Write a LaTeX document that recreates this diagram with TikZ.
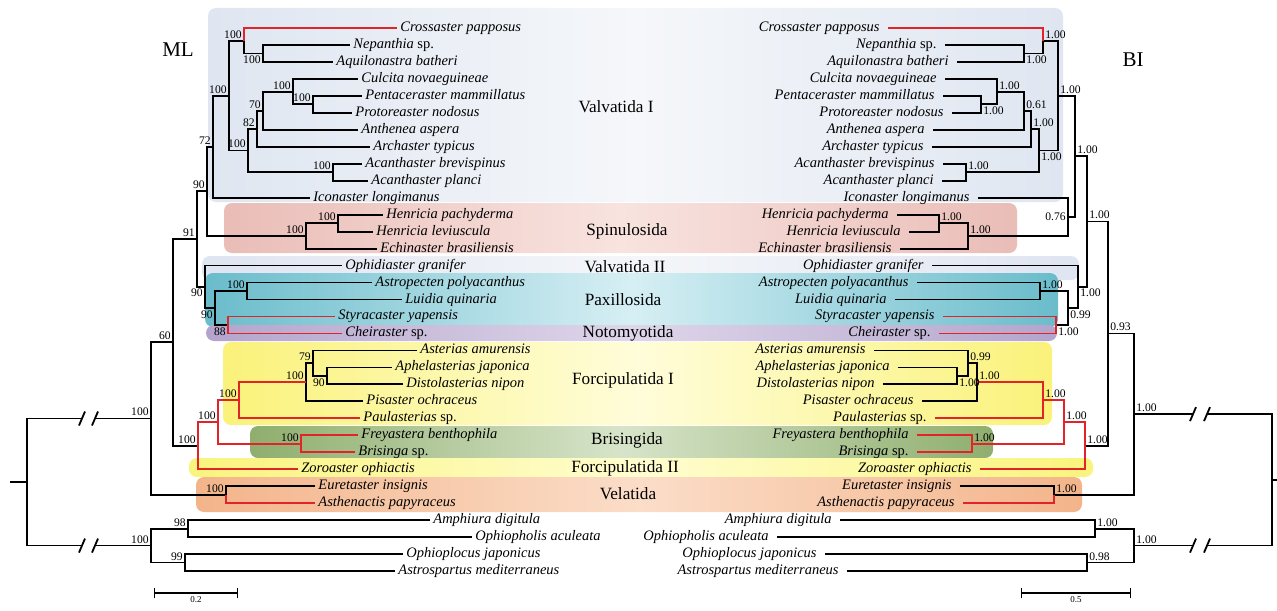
\documentclass[tikz,border=0pt]{standalone}
\usepackage{fontspec}
\setmainfont{Liberation Serif}
\usetikzlibrary{calc,arrows.meta}
\definecolor{BrRed}{HTML}{E2232A}
\definecolor{ValvIEdge}{HTML}{DFE6F1}
\definecolor{ValvIMid}{HTML}{F5F7FA}
\definecolor{SpinEdge}{HTML}{EABDB7}
\definecolor{SpinMid}{HTML}{F8E3DF}
\definecolor{ValvIIEdge}{HTML}{DFE5F1}
\definecolor{ValvIIMid}{HTML}{F4F6F9}
\definecolor{PaxEdge}{HTML}{6ABCCB}
\definecolor{PaxMid}{HTML}{D6EFF4}
\definecolor{NotoEdge}{HTML}{B4A4CC}
\definecolor{NotoMid}{HTML}{DED6EA}
\definecolor{ForcIEdge}{HTML}{FAF27A}
\definecolor{ForcIMid}{HTML}{FFFDDA}
\definecolor{BrisEdge}{HTML}{8FAE6E}
\definecolor{BrisMid}{HTML}{D7E4C9}
\definecolor{ForcIIEdge}{HTML}{F9F47C}
\definecolor{ForcIIMid}{HTML}{FFFDCF}
\definecolor{VelEdge}{HTML}{F3B48A}
\definecolor{VelMid}{HTML}{FBDDC8}
% node of a tree: name, x, first child, last child
\newcommand{\clade}[4]{%
  \coordinate (#1m) at ($(#3)!.5!(#4)$);
  \coordinate (#1) at (#2,0 |- #1m);}
\tikzset{
  taxon/.style={font=\fontsize{7.25}{8}\selectfont\itshape, text height=5pt, text depth=1.5pt, inner ysep=0pt},
  mltip/.style={taxon, anchor=west, inner xsep=1.5pt},
  bitip/.style={taxon, anchor=east, inner xsep=4pt},
  support/.style={font=\fontsize{5.8}{6}\selectfont, inner sep=1pt},
  order/.style={font=\fontsize{8.6}{9}\selectfont},
  branch/.style={line width=.9pt},
  hot/.style={branch, draw=BrRed},
  band/.style={rounded corners=4pt}
}
\begin{document}
\begin{tikzpicture}[x=.5pt, y=-.5pt]
\useasboundingbox (0,0) rectangle (1277,610);

\shade[band, left color=ValvIEdge, right color=ValvIEdge, middle color=ValvIMid] (208,8) rectangle (1063,202);
\shade[band, left color=SpinEdge, right color=SpinEdge, middle color=SpinMid] (224,203) rectangle (1017,253);
\shade[band, left color=ValvIIEdge, right color=ValvIIEdge, middle color=ValvIIMid] (202,256) rectangle (1079,280);
\shade[band, left color=PaxEdge, right color=PaxEdge, middle color=PaxMid] (205,273) rectangle (1058,327);
\shade[band, left color=NotoEdge, right color=NotoEdge, middle color=NotoMid] (206,325) rectangle (1057,341);
\shade[band, left color=ForcIEdge, right color=ForcIEdge, middle color=ForcIMid] (223,342) rectangle (1052,425);
\shade[band, left color=BrisEdge, right color=BrisEdge, middle color=BrisMid] (250,426) rectangle (993,458);
\shade[band, left color=ForcIIEdge, right color=ForcIIEdge, middle color=ForcIIMid] (189,458) rectangle (1093,477);
\shade[band, left color=VelEdge, right color=VelEdge, middle color=VelMid] (196,477) rectangle (1082,512);

\node[order] (oValI) at (616,107) {Valvatida I};
\node[order] (oSpin) at (627,231) {Spinulosida};
\node[order] (oValII) at (625,267) {Valvatida II};
\node[order] (oPax) at (623,300) {Paxillosida};
\node[order] (oNoto) at (628,333) {Notomyotida};
\node[order] (oForcI) at (623,380) {Forcipulatida I};
\node[order] (oBris) at (627,440) {Brisingida};
\node[order] (oForcII) at (625,468) {Forcipulatida II};
\node[order] (oVel) at (628,494) {Velatida};
\node[font=\fontsize{10.5}{12}\selectfont] (tML) at (178,50) {ML};
\node[font=\fontsize{10.5}{12}\selectfont] (tBI) at (1133,60) {BI};

\foreach \i/\lx/\rx/\taxname in {
  1/397/888/{Crossaster papposus}, 2/350/945/{Nepanthia \textup{sp.}},
  3/333/957/{Aquilonastra batheri}, 4/358/945/{Culcita novaeguineae},
  5/362/943/{Pentaceraster mammillatus}, 6/352/952/{Protoreaster nodosus},
  7/358/933/{Anthenea aspera}, 8/370/932/{Archaster typicus},
  9/362/943/{Acanthaster brevispinus}, 10/368/942/{Acanthaster planci},
  11/310/978/{Iconaster longimanus}, 12/383/897/{Henricia pachyderma},
  13/373/909/{Henricia leviuscula}, 14/377/900/{Echinaster brasiliensis},
  15/342/932/{Ophidiaster granifer}, 16/372/917/{Astropecten polyacanthus},
  17/402/895/{Luidia quinaria}, 18/335/943/{Styracaster yapensis},
  19/342/939/{Cheiraster \textup{sp.}}, 20/417/874/{Asterias amurensis},
  21/392/898/{Aphelasterias japonica}, 22/403/883/{Distolasterias nipon},
  23/363/922/{Pisaster ochraceus}, 24/360/935/{Paulasterias \textup{sp.}},
  25/358/917/{Freyastera benthophila}, 26/355/917/{Brisinga \textup{sp.}},
  27/298/980/{Zoroaster ophiactis}, 28/315/960/{Euretaster insignis},
  29/315/963/{Asthenactis papyraceus}, 30/430/840/{Amphiura digitula},
  31/472/777/{Ophiopholis aculeata}, 32/403/825/{Ophioplocus japonicus},
  33/395/847/{Astrospartus mediterraneus}}
  {
    \node[mltip] (L\i) at (\lx,{28+16.97*(\i-1)}) {\taxname};
    \node[bitip] (R\i) at (\rx,{28+16.97*(\i-1)}) {\taxname};
  }

% ML tree
\clade{LNA}{263}{L2.west}{L3.west}
\clade{LCro}{244}{L1.west}{LNA}
\clade{LPP}{313}{L5.west}{L6.west}
\clade{LCul}{293}{L4.west}{LPP}
\clade{L70}{263}{LCul}{L7.west}
\clade{L82}{257}{L70}{L8.west}
\clade{LAca}{333}{L9.west}{L10.west}
\clade{LB}{248}{L82}{LAca}
\clade{LV1}{229}{LCro}{LB}
\clade{LV1b}{213}{LV1}{L11.west}
\clade{LHen}{338}{L12.west}{L13.west}
\clade{LSpi}{306}{LHen}{L14.west}
\clade{L90a}{207}{LV1b}{LSpi}
\clade{LAst}{247}{L16.west}{L17.west}
\clade{LSC}{228}{L18.west}{L19.west}
\clade{L90c}{215}{LAst}{LSC}
\clade{L90b}{205}{L15.west}{L90c}
\clade{L91}{197}{L90a}{L90b}
\clade{LAD}{327}{L21.west}{L22.west}
\clade{L79}{313}{L20.west}{LAD}
\clade{L100F}{306}{L79}{L23.west}
\clade{LFI}{239}{L100F}{L24.west}
\clade{LBris}{301}{L25.west}{L26.west}
\clade{LFB}{218}{LFI}{LBris}
\clade{LFZ}{198}{LFB}{L27.west}
\clade{L60}{173}{L91}{LFZ}
\clade{LVel}{226}{L28.west}{L29.west}
\clade{LIn}{151}{L60}{LVel}
\clade{LOA}{188}{L30.west}{L31.west}
\clade{LOO}{185}{L32.west}{L33.west}
\clade{LOut}{151}{LOA}{LOO}
\clade{LRoot}{27}{LIn}{LOut}

\foreach \a/\b in {LCro/LNA, LNA/L2.west, LNA/L3.west, LV1/LCro, LV1/LB, LB/L82, LB/LAca,
    L82/L70, L82/L8.west, L70/LCul, L70/L7.west, LCul/L4.west, LCul/LPP, LPP/L5.west, LPP/L6.west,
    LAca/L9.west, LAca/L10.west, LV1b/LV1, LV1b/L11.west, L90a/LV1b, L90a/LSpi, LSpi/LHen,
    LSpi/L14.west, LHen/L12.west, LHen/L13.west, L91/L90a, L91/L90b, L90b/L15.west, L90b/L90c,
    L90c/LAst, L90c/LSC, LAst/L16.west, LAst/L17.west, L60/L91, L60/LFZ, LIn/L60, LIn/LVel,
    LVel/L28.west, L79/L20.west, L79/LAD, LAD/L21.west, LAD/L22.west, L100F/L79, L100F/L23.west,
    LOut/LOA, LOut/LOO, LOA/L30.west, LOA/L31.west, LOO/L32.west, LOO/L33.west}
  \draw[branch] (\a) |- (\b);
\foreach \a/\b in {LCro/L1.west, LSC/L18.west, LSC/L19.west, LFZ/LFB, LFZ/L27.west, LFB/LFI,
    LFB/LBris, LFI/L100F, LFI/L24.west, LBris/L25.west, LBris/L26.west, LVel/L29.west}
  \draw[hot] (\a) |- (\b);

\coordinate (LcutA) at (82,0 |- LIn);
\coordinate (LcutB) at (95,0 |- LIn);
\coordinate (LcutC) at (82,0 |- LOut);
\coordinate (LcutD) at (95,0 |- LOut);
\coordinate (Lstub) at (10,0 |- LRoot);
\draw[branch] (LRoot) |- (LcutA) (LcutB) -- (LIn);
\draw[branch] (LRoot) |- (LcutC) (LcutD) -- (LOut);
\draw[branch] (LRoot) -- (Lstub);
\foreach \c in {LcutA, LcutB, LcutC, LcutD}
  \draw[branch] ([shift={(-3,7)}]\c) -- ([shift={(3,-7)}]\c);

\foreach \n/\v/\a in {LCro/100/south east, LNA/100/north east, LPP/100/south east,
    LCul/100/south east, L70/70/south east, L82/82/south east, LAca/100/south east,
    LB/100/south east, LV1/100/south east, LV1b/72/south east, LHen/100/south east,
    LSpi/100/south east, L90a/90/south east, L91/91/south east, L90b/90/north east,
    L90c/90/north east, LAst/100/south east, LSC/88/north east, L60/60/south east,
    L79/79/south east, LAD/90/north east, L100F/100/south east, LFI/100/south east,
    LBris/100/south east, LFB/100/south east, LFZ/100/south east, LIn/100/south east,
    LVel/100/south east, LOA/98/south east, LOO/99/south east, LOut/100/south east}
  \node[support, anchor=\a] (s\n) at (\n) {\v};

% BI tree
\clade{RNA}{1024}{R2.east}{R3.east}
\clade{RCro}{1043}{R1.east}{RNA}
\clade{RPP}{981}{R5.east}{R6.east}
\clade{RCul}{997}{R4.east}{RPP}
\clade{R70}{1024}{RCul}{R7.east}
\clade{R82}{1031}{R70}{R8.east}
\clade{RAca}{966}{R9.east}{R10.east}
\clade{RB}{1039}{R82}{RAca}
\clade{RV1}{1058}{RCro}{RB}
\clade{RHen}{939}{R12.east}{R13.east}
\clade{RSpi}{968}{RHen}{R14.east}
\clade{R076}{1068}{R11.east}{RSpi}
\clade{RV1b}{1075}{RV1}{R076}
\clade{RAst}{1040}{R16.east}{R17.east}
\clade{RSC}{1056}{R18.east}{R19.east}
\clade{R90c}{1068}{RAst}{RSC}
\clade{R90b}{1078}{R15.east}{R90c}
\clade{R91}{1087}{RV1b}{R90b}
\clade{RAD}{957}{R21.east}{R22.east}
\clade{R79}{968}{R20.east}{RAD}
\clade{R100F}{977}{R79}{R23.east}
\clade{RFI}{1043}{R100F}{R24.east}
\clade{RBris}{972}{R25.east}{R26.east}
\clade{RFB}{1064}{RFI}{RBris}
\clade{RFZ}{1085}{RFB}{R27.east}
\clade{R60}{1108}{R91}{RFZ}
\clade{RVel}{1054}{R28.east}{R29.east}
\clade{RIn}{1134}{R60}{RVel}
\clade{ROA}{1095}{R30.east}{R31.east}
\clade{ROO}{1087}{R32.east}{R33.east}
\clade{ROut}{1134}{ROA}{ROO}
\clade{RRoot}{1272}{RIn}{ROut}

\foreach \a/\b in {RCro/RNA, RNA/R2.east, RNA/R3.east, RV1/RCro, RV1/RB, RB/R82, RB/RAca,
    R82/R70, R82/R8.east, R70/RCul, R70/R7.east, RCul/R4.east, RCul/RPP, RPP/R5.east, RPP/R6.east,
    RAca/R9.east, RAca/R10.east, RV1b/RV1, RV1b/R076, R076/R11.east, R076/RSpi, RSpi/RHen,
    RSpi/R14.east, RHen/R12.east, RHen/R13.east, R91/RV1b, R91/R90b, R90b/R15.east, R90b/R90c,
    R90c/RAst, R90c/RSC, RAst/R16.east, RAst/R17.east, R60/R91, R60/RFZ, RIn/R60, RIn/RVel,
    RVel/R28.east, R79/R20.east, R79/RAD, RAD/R21.east, RAD/R22.east, R100F/R79, R100F/R23.east,
    ROut/ROA, ROut/ROO, ROA/R30.east, ROA/R31.east, ROO/R32.east, ROO/R33.east}
  \draw[branch] (\a) |- (\b);
\foreach \a/\b in {RCro/R1.east, RSC/R18.east, RSC/R19.east, RFZ/RFB, RFZ/R27.east, RFB/RFI,
    RFB/RBris, RFI/R100F, RFI/R24.east, RBris/R25.east, RBris/R26.east, RVel/R29.east}
  \draw[hot] (\a) |- (\b);

\coordinate (RcutA) at (1207,0 |- RIn);
\coordinate (RcutB) at (1193,0 |- RIn);
\coordinate (RcutC) at (1207,0 |- ROut);
\coordinate (RcutD) at (1193,0 |- ROut);
\coordinate (Rstub) at (1277,0 |- RRoot);
\draw[branch] (RRoot) |- (RcutA) (RcutB) -- (RIn);
\draw[branch] (RRoot) |- (RcutC) (RcutD) -- (ROut);
\draw[branch] (RRoot) -- (Rstub);
\foreach \c in {RcutA, RcutB, RcutC, RcutD}
  \draw[branch] ([shift={(-3,7)}]\c) -- ([shift={(3,-7)}]\c);

\foreach \n/\v/\a in {RCro/1.00/south west, RNA/1.00/north west, RPP/1.00/north west,
    RCul/1.00/south west, R70/0.61/south west, R82/1.00/south west, RAca/1.00/south west,
    RB/1.00/north west, RV1/1.00/south west, R076/0.76/east, RV1b/1.00/south west,
    RHen/1.00/south west, RSpi/1.00/south west, RAst/1.00/south west, RSC/1.00/north west,
    R90c/0.99/north west, R90b/1.00/north west, R91/1.00/south west, R60/0.93/south west,
    RIn/1.00/south west, R79/0.99/south west, RAD/1.00/north west, R100F/1.00/south west,
    RFI/1.00/south west, RBris/1.00/south west, RFB/1.00/south west, RFZ/1.00/south west,
    RVel/1.00/south west, ROA/1.00/south west, ROO/0.98/south west, ROut/1.00/south west}
  \node[support, anchor=\a] (s\n) at (\n) {\v};

% scale bars
\coordinate (sbLa) at (154,593);
\coordinate (sbLb) at (238,593);
\coordinate (sbRa) at (1021,593);
\coordinate (sbRb) at (1131,593);
\draw[line width=.7pt, {Bar[width=5pt]}-{Bar[width=5pt]}] (sbLa) -- (sbLb)
  node[midway, below=1pt, inner sep=.5pt, font=\fontsize{4.5}{5}\selectfont] (sbLt) {0.2};
\draw[line width=.7pt, {Bar[width=5pt]}-{Bar[width=5pt]}] (sbRa) -- (sbRb)
  node[midway, below=1pt, inner sep=.5pt, font=\fontsize{4.5}{5}\selectfont] (sbRt) {0.5};
\end{tikzpicture}
\end{document}
